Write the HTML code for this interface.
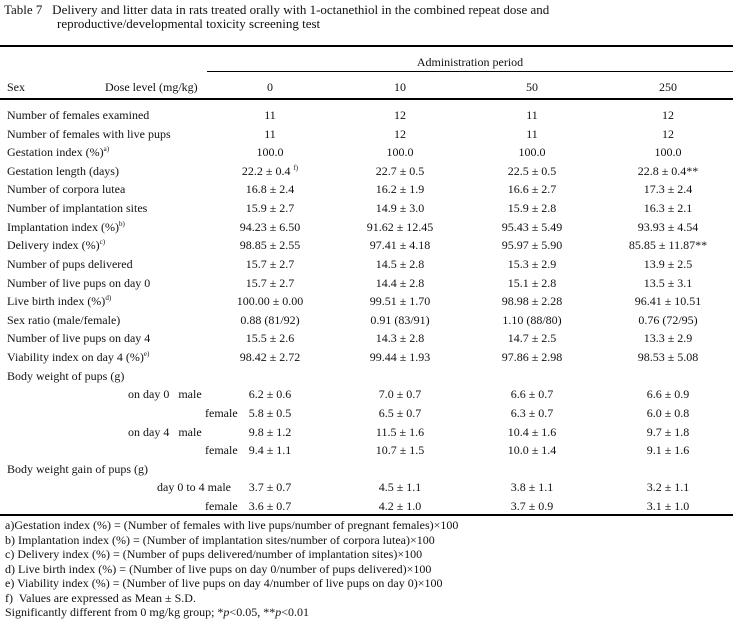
<!DOCTYPE html>
<html><head><meta charset="utf-8"><style>
body{margin:0;width:733px;height:621px;background:#fff;font-family:"Liberation Serif",serif;font-size:12px;color:#111;position:relative;overflow:hidden}
.t{position:absolute;white-space:nowrap;line-height:14px}
.c{position:absolute;white-space:nowrap;line-height:14px;transform:translateX(-50%)}
.r{position:absolute;background:#000;height:1px}
sup{font-size:7px;vertical-align:baseline;position:relative;top:-5px;line-height:0}
</style></head><body>
<div class="t" style="left:4px;top:3px;font-size:13px">Table 7&nbsp;&nbsp; Delivery and litter data in rats treated orally with 1-octanethiol in the combined repeat dose and</div>
<div class="t" style="left:57px;top:17px;font-size:13px">reproductive/developmental toxicity screening test</div>
<div class="r" style="left:0;top:45px;width:733px;height:2px"></div>
<div class="c" style="left:470px;top:55px">Administration period</div>
<div class="r" style="left:207px;top:71px;width:526px"></div>
<div class="t" style="left:7px;top:80px">Sex</div>
<div class="t" style="left:105px;top:80px">Dose level (mg/kg)</div>
<div class="c" style="left:270px;top:80px">0</div>
<div class="c" style="left:400px;top:80px">10</div>
<div class="c" style="left:532px;top:80px">50</div>
<div class="c" style="left:668px;top:80px">250</div>
<div class="r" style="left:0;top:98px;width:733px;height:1.5px"></div>
<div id="rows"></div>
<div class="r" style="left:0;top:514px;width:733px;height:1.5px"></div>
<div class="t" style="left:5px;top:518px">a)Gestation index (%) = (Number of females with live pups/number of pregnant females)×100</div>
<div class="t" style="left:5px;top:532.5px">b) Implantation index (%) = (Number of implantation sites/number of corpora lutea)×100</div>
<div class="t" style="left:5px;top:547px">c) Delivery index (%) = (Number of pups delivered/number of implantation sites)×100</div>
<div class="t" style="left:5px;top:561.5px">d) Live birth index (%) = (Number of live pups on day 0/number of pups delivered)×100</div>
<div class="t" style="left:5px;top:576px">e) Viability index (%) = (Number of live pups on day 4/number of live pups on day 0)×100</div>
<div class="t" style="left:5px;top:590.5px">f)&nbsp; Values are expressed as Mean ± S.D.</div>
<div class="t" style="left:5px;top:605px">Significantly different from 0 mg/kg group; *<i>p</i>&lt;0.05, **<i>p</i>&lt;0.01</div>
<script>
var R=[
["Number of females examined",7,"11","12","11","12"],
["Number of females with live pups",7,"11","12","11","12"],
["Gestation index (%)<sup>a)</sup>",7,"100.0","100.0","100.0","100.0"],
["Gestation length (days)",7,"22.2 ± 0.4 <sup>f)</sup>","22.7 ± 0.5","22.5 ± 0.5","22.8 ± 0.4**"],
["Number of corpora lutea",7,"16.8 ± 2.4","16.2 ± 1.9","16.6 ± 2.7","17.3 ± 2.4"],
["Number of implantation sites",7,"15.9 ± 2.7","14.9 ± 3.0","15.9 ± 2.8","16.3 ± 2.1"],
["Implantation index (%)<sup>b)</sup>",7,"94.23 ± 6.50","91.62 ± 12.45","95.43 ± 5.49","93.93 ± 4.54"],
["Delivery index (%)<sup>c)</sup>",7,"98.85 ± 2.55","97.41 ± 4.18","95.97 ± 5.90","85.85 ± 11.87**"],
["Number of pups delivered",7,"15.7 ± 2.7","14.5 ± 2.8","15.3 ± 2.9","13.9 ± 2.5"],
["Number of live pups on day 0",7,"15.7 ± 2.7","14.4 ± 2.8","15.1 ± 2.8","13.5 ± 3.1"],
["Live birth index (%)<sup>d)</sup>",7,"100.00 ± 0.00","99.51 ± 1.70","98.98 ± 2.28","96.41 ± 10.51"],
["Sex ratio (male/female)",7,"0.88 (81/92)","0.91 (83/91)","1.10 (88/80)","0.76 (72/95)"],
["Number of live pups on day 4",7,"15.5 ± 2.6","14.3 ± 2.8","14.7 ± 2.5","13.3 ± 2.9"],
["Viability index on day 4 (%)<sup>e)</sup>",7,"98.42 ± 2.72","99.44 ± 1.93","97.86 ± 2.98","98.53 ± 5.08"],
["Body weight of pups (g)",7,"","","",""],
["on day 0&nbsp;&nbsp; male",128,"6.2 ± 0.6","7.0 ± 0.7","6.6 ± 0.7","6.6 ± 0.9"],
["female",205,"5.8 ± 0.5","6.5 ± 0.7","6.3 ± 0.7","6.0 ± 0.8"],
["on day 4&nbsp;&nbsp; male",128,"9.8 ± 1.2","11.5 ± 1.6","10.4 ± 1.6","9.7 ± 1.8"],
["female",205,"9.4 ± 1.1","10.7 ± 1.5","10.0 ± 1.4","9.1 ± 1.6"],
["Body weight gain of pups (g)",7,"","","",""],
["day 0 to 4 male",157,"3.7 ± 0.7","4.5 ± 1.1","3.8 ± 1.1","3.2 ± 1.1"],
["female",205,"3.6 ± 0.7","4.2 ± 1.0","3.7 ± 0.9","3.1 ± 1.0"]];
var X=[270,400,532,668],h="";
R.forEach(function(r,i){var y=108+i*18.62;
h+='<div class="t" style="left:'+r[1]+'px;top:'+y+'px">'+r[0]+'</div>';
for(var j=0;j<4;j++)if(r[j+2])h+='<div class="c" style="left:'+X[j]+'px;top:'+y+'px">'+r[j+2]+'</div>';});
document.getElementById('rows').innerHTML=h;
</script>
</body></html>
